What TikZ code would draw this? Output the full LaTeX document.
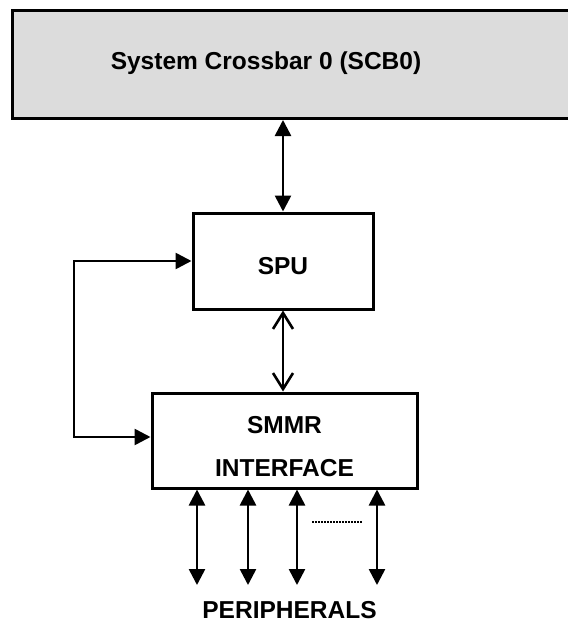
\documentclass[tikz,border=0pt]{standalone}
\usepackage{fontspec}
\setmainfont{Liberation Sans}
\usetikzlibrary{arrows.meta}
\usetikzlibrary{calc}

\definecolor{xbargray}{RGB}{220,220,220}

\tikzset{
  blk/.style={draw, line width=3pt, inner sep=0pt},
  lbl/.style={font=\fontsize{24.5}{29}\selectfont\bfseries, inner sep=0pt},
  dblarr/.style={line width=2.6pt, {Triangle[length=16pt,width=16pt]}-{Triangle[length=16pt,width=16pt]}},
  openarr/.style={line width=2.6pt, {Straight Barb[length=16pt,width=20pt]}-{Straight Barb[length=16pt,width=20pt]}}
}

\begin{document}
\begin{tikzpicture}[x=1pt,y=-1pt]
\useasboundingbox (0,0) rectangle (567,623);

\node[blk, fill=xbargray, minimum width=600, minimum height=108, anchor=north west] (scb) at (11,9) {};
\node[lbl] (scbtxt) at (266,63) {System Crossbar 0 (SCB0)};

\node[blk, lbl, minimum width=180, minimum height=96, text height=26pt, text depth=0pt] (spu) at (283,261) {SPU};

\node[blk, minimum width=265, minimum height=95] (smmr) at (284.5,440.5) {};
\node[lbl, align=center] (smmrtxt) at ($(smmr.center)+(0,6)$) {SMMR\\[14pt]INTERFACE};

\draw[dblarr] (spu.north |- scb.south) -- (spu.north);
\draw[openarr] (spu.south) -- (spu.south |- smmr.north);

% loop back on the left
\coordinate (fb) at (74,437);
\draw[dblarr] (spu.west) -| (fb) -- (fb -| smmr.west);

\foreach \px [count=\i] in {197,248,297,377} {
  \coordinate (per\i) at (\px,585);
  \draw[dblarr] (per\i |- smmr.south) -- (per\i);
}
\draw[line width=2pt, dash pattern=on 2pt off 1pt] (312,522) -- (362,522);

\node[lbl] (peri) at (289.5,610.5) {PERIPHERALS};

\end{tikzpicture}
\end{document}
